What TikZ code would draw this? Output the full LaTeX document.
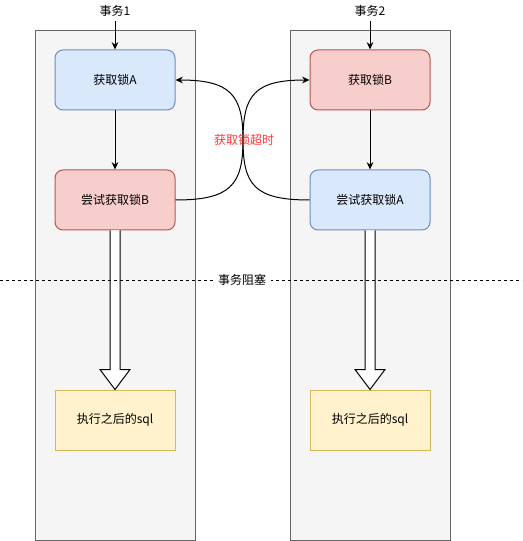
\documentclass[tikz,border=0pt]{standalone}
\usepackage{fontspec}
\setmainfont{Noto Sans CJK SC}
\usetikzlibrary{arrows.meta,calc}
\definecolor{laneFill}{HTML}{F5F5F5}
\definecolor{laneLine}{HTML}{666666}
\definecolor{blueFill}{HTML}{DAE8FC}
\definecolor{blueLine}{HTML}{6C8EBF}
\definecolor{redFill}{HTML}{F8CECC}
\definecolor{redLine}{HTML}{B85450}
\definecolor{yellowFill}{HTML}{FFF2CC}
\definecolor{yellowLine}{HTML}{D6B656}
\definecolor{timeoutRed}{HTML}{FF3333}
\tikzset{
  lane/.style={draw=laneLine, fill=laneFill, line width=0.75pt},
  lockbox/.style={draw, rounded corners=6pt, minimum width=90pt, minimum height=45pt, line width=0.75pt},
  bluebox/.style={lockbox, draw=blueLine, fill=blueFill},
  redbox/.style={lockbox, draw=redLine, fill=redFill},
  sqlbox/.style={draw=yellowLine, fill=yellowFill, minimum width=90pt, minimum height=45pt, line width=0.75pt},
  flow/.style={-{Stealth[length=5.5pt,width=5pt]}, line width=0.75pt},
  fat/.style={draw, fill=white, line width=0.75pt, line join=miter}
}
\begin{document}
\begin{tikzpicture}[x=0.75pt, y=-0.75pt, font=\fontsize{9pt}{11pt}\selectfont]
  \useasboundingbox (0,0) rectangle (522,541);

  % two transactions
  \draw[lane] (35.5,30.5) rectangle (195.5,540);
  \draw[lane] (290.5,30.5) rectangle (450.5,540);

  \node (tx1) at (115,11) {事务1};
  \node (tx2) at (370,11) {事务2};

  \node[bluebox] (lockA) at (115,80) {获取锁A};
  \node[redbox]  (tryB)  at (115,200) {尝试获取锁B};
  \node[sqlbox]  (sql1)  at (115,420) {执行之后的sql};

  \node[redbox]  (lockB) at (370,80) {获取锁B};
  \node[bluebox] (tryA)  at (370,200) {尝试获取锁A};
  \node[sqlbox]  (sql2)  at (370,420) {执行之后的sql};

  \draw[flow] (tx1) -- (lockA);
  \draw[flow] (lockA) -- (tryB);
  \draw[flow] (tx2) -- (lockB);
  \draw[flow] (lockB) -- (tryA);

  % waiting for the other lock
  \coordinate (wait) at (243,140);
  \draw[flow] (tryB.east) .. controls +(55,0) and +(0,45) .. (wait)
                          .. controls +(0,-45) and +(55,0) .. (lockA.east);
  \draw[flow] (tryA.west) .. controls +(-55,0) and +(0,45) .. (wait)
                          .. controls +(0,-45) and +(-55,0) .. (lockB.west);
  \node[text=timeoutRed] (timeout) at (244,140) {获取锁超时};

  % blocked until timeout
  \draw[fat] ($(tryB.south)+(-5,0)$) -- ($(sql1.north)+(-5,-20)$) -- ++(-10,0)
             -- (sql1.north) -- ($(sql1.north)+(15,-20)$) -- ++(-10,0) -- ($(tryB.south)+(5,0)$);
  \draw[fat] ($(tryA.south)+(-5,0)$) -- ($(sql2.north)+(-5,-20)$) -- ++(-10,0)
             -- (sql2.north) -- ($(sql2.north)+(15,-20)$) -- ++(-10,0) -- ($(tryA.south)+(5,0)$);

  \draw[dash pattern=on 2.25pt off 2.25pt, line width=0.75pt] (0,280) -- (522,280);
  \node[fill=white, inner xsep=4pt] (blocked) at (242,280) {事务阻塞};
\end{tikzpicture}
\end{document}
